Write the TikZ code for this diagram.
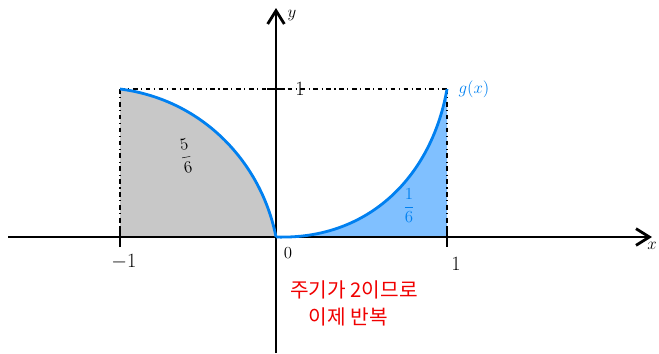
\documentclass[tikz,border=0pt]{standalone}
\usepackage{fontspec}
\newfontfamily\kofont{Noto Sans CJK KR}
\definecolor{curveBlue}{RGB}{0,128,240}
\definecolor{fillBlue}{RGB}{128,192,255}
\definecolor{fillGray}{RGB}{200,200,200}
\definecolor{noteRed}{RGB}{240,0,0}
\usetikzlibrary{arrows.meta,positioning}

\begin{document}
\begin{tikzpicture}[x=0.03cm,y=-0.03cm,
        axis/.style={line width=2.4pt,-{Straight Barb[length=4mm,width=5mm,line width=2.4pt]}},
        tick/.style={line width=2.4pt},
        guide/.style={line width=1.4pt,dash pattern=on 4pt off 3pt on 1pt off 3pt},
        lbl/.style={font=\LARGE},
        small/.style={font=\Large},
        frac/.style={font=\Large},
        note/.style={noteRed,font=\kofont\LARGE,anchor=west},
        curve/.style={line width=2.4pt,curveBlue}]
  \useasboundingbox (0,0) rectangle (659,353);
  % key points
  \coordinate (O)  at (276,237);
  \coordinate (L)  at (120,237);
  \coordinate (R)  at (447,237);
  \coordinate (LT) at (120,89);
  \coordinate (RT) at (447,89);
  \coordinate (xs) at (8,237);
  \coordinate (xe) at (652,237);
  \coordinate (ys) at (276,353);
  \coordinate (ye) at (276,8);
  % shaded areas
  \fill[fillGray] (L) -- (LT) .. controls (205,100) and (262,165) .. (O) -- cycle;
  \fill[fillBlue] (O) .. controls (370,240) and (432,175) .. (RT) -- (R) -- cycle;
  % dotted guides
  \draw[guide] (LT) -- (RT);
  \draw[guide] (LT) -- (L);
  \draw[guide] (RT) -- (R);
  % axes
  \draw[axis] (xs) -- (xe);
  \draw[axis] (ys) -- (ye);
  % ticks
  \draw[tick] (120,227) -- (120,247);
  \draw[tick] (447,227) -- (447,247);
  \draw[tick] (267,89) -- (285,89);
  % curves
  \draw[curve] (LT) .. controls (205,100) and (262,165) .. (O);
  \draw[curve] (O) .. controls (370,240) and (432,175) .. (RT);
  % labels
  \node[small] (xl) at (652,246) {$x$};
  \node[small] (yl) at (292,16) {$y$};
  \node[lbl] (one) at (300,89) {$1$};
  \node[lbl] (m1) at (124,262) {$-1$};
  \node[lbl] (p1) at (456,264) {$1$};
  \node[small] (zero) at (288,253) {$0$};
  \node[font=\Large,curveBlue] (gx) at (474,89) {$g(x)$};
  \node[frac,rotate=10] (big) at (186,156) {$\displaystyle\frac{5}{6}$};
  \node[frac,curveBlue] (sixth) at (409,206) {$\displaystyle\frac{1}{6}$};
  \node[note] (note1) at (286,290) {주기가 2이므로};
  \node[note,below=0pt of note1.south west,anchor=north west,xshift=16pt] (note2) {이제 반복};
\end{tikzpicture}
\end{document}
